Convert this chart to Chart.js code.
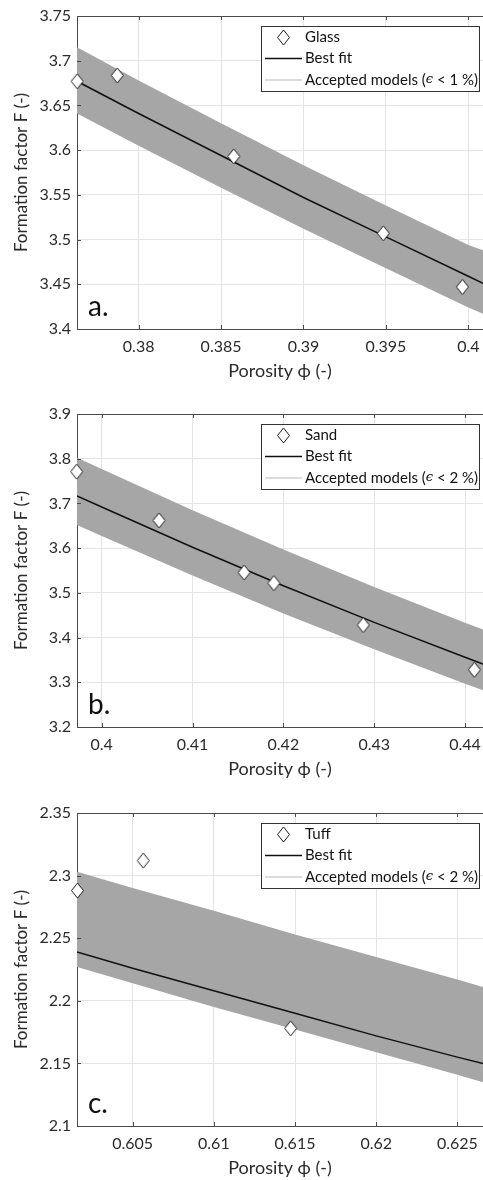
<!DOCTYPE html>
<html>
<head>
<meta charset="utf-8">
<script src="https://cdn.jsdelivr.net/npm/chart.js@4.4.1/dist/chart.umd.min.js"></script>
<style>
html,body{margin:0;padding:0;background:#fff;width:483px;height:1180px;overflow:hidden;}
.panel{position:absolute;left:0;width:483px;height:385px;}
canvas{display:block;}
</style>
</head>
<body>
<div class="panel" style="top:0px"><canvas id="ca" width="483" height="385"></canvas></div>
<div class="panel" style="top:398px"><canvas id="cb" width="483" height="385"></canvas></div>
<div class="panel" style="top:797px"><canvas id="cc" width="483" height="385"></canvas></div>
<script>
// ---------- Panel a: Glass ----------
const glassPhi = [0.37627, 0.3787, 0.38577, 0.39484, 0.39964];
const glassF   = [3.677, 3.6835, 3.593, 3.507, 3.447];
const glassFitPhi = [0.37626, 0.38, 0.385, 0.39, 0.395, 0.4, 0.40089];
const glassFit    = [3.677, 3.641, 3.594, 3.547, 3.503, 3.459, 3.451];
const glassUpper  = [3.715, 3.678, 3.630, 3.583, 3.538, 3.494, 3.488];
const glassLower  = [3.641, 3.605, 3.558, 3.512, 3.468, 3.424, 3.417];
const glassXTicks = [0.38, 0.385, 0.39, 0.395, 0.4];
const glassYTicks = [3.4, 3.45, 3.5, 3.55, 3.6, 3.65, 3.7, 3.75];

// ---------- Panel b: Sand ----------
const sandPhi = [0.39725, 0.40631, 0.41568, 0.41895, 0.42879, 0.44103];
const sandF   = [3.771, 3.662, 3.5455, 3.5217, 3.428, 3.328];
const sandFitPhi = [0.39728, 0.4, 0.41, 0.42, 0.43, 0.44, 0.44198];
const sandFit    = [3.717, 3.692, 3.602, 3.516, 3.434, 3.356, 3.341];
const sandUpper  = [3.802, 3.777, 3.685, 3.597, 3.513, 3.433, 3.418];
const sandLower  = [3.652, 3.627, 3.539, 3.454, 3.374, 3.297, 3.282];
const sandXTicks = [0.4, 0.41, 0.42, 0.43, 0.44];
const sandYTicks = [3.2, 3.3, 3.4, 3.5, 3.6, 3.7, 3.8, 3.9];

// ---------- Panel c: Tuff ----------
const tuffPhi = [0.6016, 0.60565, 0.61473];
const tuffF   = [2.288, 2.312, 2.178];
const tuffFitPhi = [0.60157, 0.605, 0.61, 0.615, 0.62, 0.625, 0.62658];
const tuffFit    = [2.239, 2.226, 2.208, 2.190, 2.172, 2.155, 2.150];
const tuffUpper  = [2.303, 2.290, 2.272, 2.253, 2.235, 2.217, 2.211];
const tuffLower  = [2.227, 2.214, 2.195, 2.177, 2.159, 2.141, 2.135];
const tuffXTicks = [0.605, 0.61, 0.615, 0.62, 0.625];
const tuffYTicks = [2.1, 2.15, 2.2, 2.25, 2.3, 2.35];

const xTitle = 'Porosity ϕ (-)';
const yTitle = 'Formation factor F (-)';
const fitLabel = 'Best fit';

// ---------- styling ----------
const FONT = 'Lato';
const axisColor = '#4a4a4a';
const textColor = '#2b2b2b';
const gridColor = '#e4e4e4';
const bandColor = '#a6a6a6';

// diamond marker image
const diamond = document.createElement('canvas');
diamond.width = 15; diamond.height = 17;
(function(){
  const c = diamond.getContext('2d');
  c.beginPath();
  c.moveTo(7.5, 1); c.lineTo(13.5, 8.5); c.lineTo(7.5, 16); c.lineTo(1.5, 8.5); c.closePath();
  c.fillStyle = '#fff'; c.fill();
  c.strokeStyle = '#1a1a1a'; c.lineWidth = 1; c.stroke();
})();

const pts = (xs, ys) => xs.map((x, i) => ({x: x, y: ys[i]}));
const fmt = v => String(+Number(v).toFixed(4));

const deco = {
  id: 'deco',
  afterDraw(chart, args, o) {
    const ctx = chart.ctx, a = chart.chartArea;
    const xs = chart.scales.x, ys = chart.scales.y;
    ctx.save();
    ctx.strokeStyle = axisColor; ctx.lineWidth = 1;
    ctx.beginPath();
    ctx.moveTo(a.left, a.top + 0.5); ctx.lineTo(chart.width, a.top + 0.5);
    xs.ticks.forEach(t => {
      const x = Math.round(xs.getPixelForValue(t.value)) + 0.5;
      ctx.moveTo(x, a.bottom); ctx.lineTo(x, a.bottom - 4);
      ctx.moveTo(x, a.top); ctx.lineTo(x, a.top + 4);
    });
    ys.ticks.forEach(t => {
      const y = Math.round(ys.getPixelForValue(t.value)) + 0.5;
      ctx.moveTo(a.left, y); ctx.lineTo(a.left + 4, y);
    });
    ctx.stroke();

    // panel letter
    ctx.fillStyle = '#111';
    ctx.font = '28px ' + FONT;
    ctx.textAlign = 'left'; ctx.textBaseline = 'alphabetic';
    ctx.fillText(o.letter, a.left + 11, a.bottom - 13);

    // legend
    const lx = 261, lw = 218, ly = a.top + 10, lh = 65;
    ctx.fillStyle = '#fff'; ctx.fillRect(lx, ly, lw, lh);
    ctx.strokeStyle = '#333'; ctx.lineWidth = 1;
    ctx.strokeRect(lx + 0.5, ly + 0.5, lw, lh);
    const r0 = ly + 11.5, r1 = ly + 32.5, r2 = ly + 54;
    ctx.drawImage(diamond, 283.5 - diamond.width / 2, r0 - diamond.height / 2);
    ctx.beginPath(); ctx.strokeStyle = '#111'; ctx.lineWidth = 1.5;
    ctx.moveTo(265, r1); ctx.lineTo(302, r1); ctx.stroke();
    ctx.beginPath(); ctx.strokeStyle = '#b9b9b9'; ctx.lineWidth = 1.2;
    ctx.moveTo(265, r2); ctx.lineTo(302, r2); ctx.stroke();
    ctx.fillStyle = '#111'; ctx.textBaseline = 'middle';
    ctx.font = '15px ' + FONT;
    ctx.fillText(o.name, 305, r0);
    ctx.fillText(fitLabel, 305, r1);
    let x = 305;
    const p1 = 'Accepted models (';
    ctx.fillText(p1, x, r2); x += ctx.measureText(p1).width;
    ctx.font = 'italic 13px "DejaVu Serif"';
    ctx.fillText('ϵ', x, r2); x += ctx.measureText('ϵ').width;
    ctx.font = '15px ' + FONT;
    ctx.fillText(' < ' + o.eps + ' %)', x, r2);
    ctx.restore();
  }
};

function makePanel(id, p) {
  return new Chart(document.getElementById(id), {
    type: 'scatter',
    data: {
      datasets: [
        { label: p.name, data: pts(p.phi, p.F), order: 0, clip: false,
          pointStyle: diamond, pointRadius: 7, showLine: false },
        { label: fitLabel, data: pts(p.fitPhi, p.fit), order: 1, showLine: true,
          borderColor: '#111', borderWidth: 1.5, pointRadius: 0, fill: false },
        { label: 'Accepted models upper', data: pts(p.fitPhi, p.upper), order: 3, showLine: true,
          borderWidth: 0, borderColor: bandColor, pointRadius: 0, fill: false },
        { label: 'Accepted models lower', data: pts(p.fitPhi, p.lower), order: 2, showLine: true,
          borderWidth: 0, borderColor: bandColor, backgroundColor: bandColor, pointRadius: 0, fill: 2 }
      ]
    },
    options: {
      responsive: false,
      animation: false,
      events: [],
      layout: { autoPadding: false, padding: { top: 16, left: 0, right: 0, bottom: 0 } },
      plugins: {
        legend: { display: false },
        tooltip: { enabled: false },
        deco: { letter: p.letter, name: p.name, eps: p.eps }
      },
      scales: {
        x: {
          type: 'linear', min: p.xmin, max: p.xmax,
          afterBuildTicks: s => { s.ticks = p.xTicks.map(v => ({value: v})); },
          afterFit: s => { s.height = 56; s.paddingLeft = 0; s.paddingRight = 0; },
          grid: { color: gridColor, drawTicks: false, lineWidth: 1 },
          border: { color: axisColor, width: 1 },
          ticks: { callback: fmt, padding: 8, color: textColor, maxRotation: 0, autoSkip: false,
                   font: { family: FONT, size: 16 } },
          title: { display: true, text: xTitle, color: textColor, padding: { top: 0, bottom: 3 },
                   font: { family: FONT, size: 18 } }
        },
        y: {
          type: 'linear', min: p.ymin, max: p.ymax,
          afterBuildTicks: s => { s.ticks = p.yTicks.map(v => ({value: v})); },
          afterFit: s => { s.width = 77; s.paddingTop = 0; s.paddingBottom = 0; },
          grid: { color: gridColor, drawTicks: false, lineWidth: 1 },
          border: { color: axisColor, width: 1 },
          ticks: { callback: fmt, padding: 6, color: textColor, autoSkip: false,
                   font: { family: FONT, size: 16 } },
          title: { display: true, text: yTitle, color: textColor, padding: { top: 11, bottom: 0 },
                   font: { family: FONT, size: 17 } }
        }
      }
    },
    plugins: [deco]
  });
}

makePanel('ca', { name: 'Glass', letter: 'a.', eps: '1',
  phi: glassPhi, F: glassF, fitPhi: glassFitPhi, fit: glassFit, upper: glassUpper, lower: glassLower,
  xmin: 0.37626, xmax: 0.40089, ymin: 3.4, ymax: 3.75, xTicks: glassXTicks, yTicks: glassYTicks });
makePanel('cb', { name: 'Sand', letter: 'b.', eps: '2',
  phi: sandPhi, F: sandF, fitPhi: sandFitPhi, fit: sandFit, upper: sandUpper, lower: sandLower,
  xmin: 0.39728, xmax: 0.44198, ymin: 3.2, ymax: 3.9, xTicks: sandXTicks, yTicks: sandYTicks });
makePanel('cc', { name: 'Tuff', letter: 'c.', eps: '2',
  phi: tuffPhi, F: tuffF, fitPhi: tuffFitPhi, fit: tuffFit, upper: tuffUpper, lower: tuffLower,
  xmin: 0.60157, xmax: 0.62658, ymin: 2.1, ymax: 2.35, xTicks: tuffXTicks, yTicks: tuffYTicks });
</script>
</body>
</html>
